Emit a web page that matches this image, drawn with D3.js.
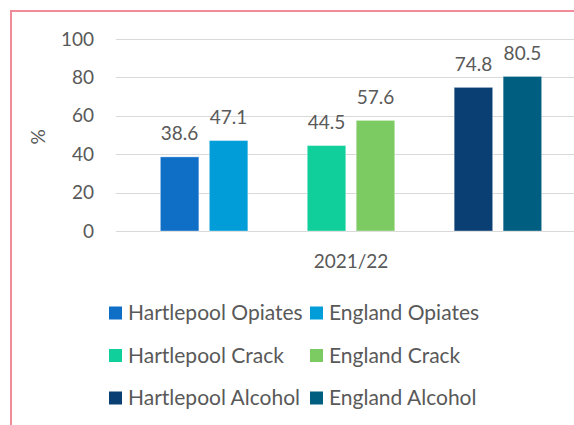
<!DOCTYPE html>
<html>
<head>
<meta charset="utf-8">
<script src="https://cdn.jsdelivr.net/npm/d3@7"></script>
<style>
  html, body { margin: 0; padding: 0; background: #fff; }
  svg { display: block; font-family: Lato, "Open Sans", sans-serif; }
</style>
</head>
<body>
<div class="chart"></div>
<script>
// Chart data
var categories = ['2021/22'];
var seriesNames = ['Hartlepool Opiates', 'England Opiates', 'Hartlepool Crack', 'England Crack', 'Hartlepool Alcohol', 'England Alcohol'];
var seriesValues = [38.6, 47.1, 44.5, 57.6, 74.8, 80.5];
var yTickValues = [0, 20, 40, 60, 80, 100];
var yLabel = '%';

// Series colours (same order as seriesNames)
var seriesColors = ['#0f6fc6', '#009dd9', '#10cf9b', '#7cca62', '#0a3f73', '#005e80'];

var width = 574, height = 425;
var textColor = '#595959';
var gridColor = '#d9d9d9';
var fontSize = 19;
var legendFontSize = 21;

// Plot area (runs off the right edge, like the cropped original)
var plot = { left: 116, right: 586, top: 39, bottom: 231 };

var svg = d3.select('.chart').append('svg')
  .attr('width', width)
  .attr('height', height);

svg.append('rect')
  .attr('width', width).attr('height', height)
  .attr('fill', '#fff');

// Pink frame, cropped on the right and bottom
svg.append('rect')
  .attr('x', 11).attr('y', 11)
  .attr('width', width + 20).attr('height', height + 20)
  .attr('fill', 'none')
  .attr('stroke', '#f08b98')
  .attr('stroke-width', 2);

// Excel leaves an empty series between each pair, so build slots with gaps
var slots = [];
seriesNames.forEach(function(name, i) {
  slots.push(name);
  if (i % 2 === 1 && i < seriesNames.length - 1) slots.push('gap' + i);
});

var xScale = d3.scaleBand()
  .domain(slots)
  .range([plot.left, plot.right])
  .paddingInner(0.214)
  .paddingOuter(0.906);

var catScale = d3.scaleBand()
  .domain(categories)
  .range([plot.left, plot.right]);

var yScale = d3.scaleLinear()
  .domain([0, 100])
  .range([plot.bottom, plot.top]);

// Gridlines + tick labels
var yAxis = d3.axisLeft(yScale)
  .tickValues(yTickValues)
  .tickSize(-(plot.right - plot.left))
  .tickPadding(22)
  .tickFormat(d3.format('d'));

var yAxisG = svg.append('g')
  .attr('class', 'y-axis')
  .attr('transform', 'translate(' + plot.left + ',0)')
  .call(yAxis);
yAxisG.select('.domain').remove();
yAxisG.selectAll('.tick line')
  .attr('stroke', gridColor)
  .attr('shape-rendering', 'crispEdges');
yAxisG.selectAll('.tick text')
  .attr('fill', textColor)
  .attr('font-size', fontSize)
  .attr('font-family', 'Lato, "Open Sans", sans-serif');

// Bars
var data = seriesNames.map(function(name, i) {
  return { name: name, value: seriesValues[i], color: seriesColors[i] };
});

svg.append('g').selectAll('rect')
  .data(data)
  .enter()
  .append('rect')
  .attr('x', d => xScale(d.name))
  .attr('y', d => yScale(d.value))
  .attr('width', xScale.bandwidth())
  .attr('height', d => yScale(0) - yScale(d.value))
  .attr('fill', d => d.color)
  .attr('stroke', '#fff')
  .attr('stroke-opacity', 0.35)
  .attr('stroke-width', 1);

// Value labels
svg.append('g').selectAll('text')
  .data(data)
  .enter()
  .append('text')
  .attr('x', d => xScale(d.name) + xScale.bandwidth() / 2)
  .attr('y', d => yScale(d.value) - 16.5)
  .attr('text-anchor', 'middle')
  .attr('fill', textColor)
  .attr('font-size', fontSize)
  .text(d => d3.format('.1f')(d.value));

// Category label
svg.append('g').selectAll('text')
  .data(categories)
  .enter()
  .append('text')
  .attr('x', d => catScale(d) + catScale.bandwidth() / 2)
  .attr('y', 268)
  .attr('text-anchor', 'middle')
  .attr('fill', textColor)
  .attr('font-size', fontSize)
  .text(d => d);

// Y axis title
svg.append('text')
  .attr('transform', 'translate(45,137) rotate(-90)')
  .attr('text-anchor', 'middle')
  .attr('fill', textColor)
  .attr('font-size', fontSize)
  .text(yLabel);

// Legend: two columns, three rows
var legendCols = [109, 310];
var legendTop = 313, legendRowGap = 42.5, swatch = 13;

var legend = svg.append('g').selectAll('g')
  .data(data)
  .enter()
  .append('g')
  .attr('transform', (d, i) => 'translate(' + legendCols[i % 2] + ',' + (legendTop + Math.floor(i / 2) * legendRowGap) + ')');

legend.append('rect')
  .attr('x', 0).attr('y', -swatch / 2)
  .attr('width', swatch).attr('height', swatch)
  .attr('fill', d => d.color);

legend.append('text')
  .attr('x', 19)
  .attr('dy', '0.35em')
  .attr('fill', textColor)
  .attr('font-size', legendFontSize)
  .text(d => d.name);
</script>
</body>
</html>
